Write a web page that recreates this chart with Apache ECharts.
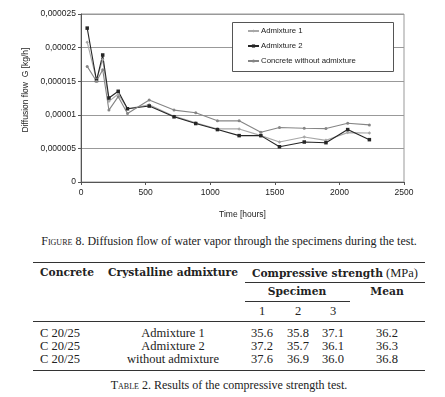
<!DOCTYPE html>
<html>
<head>
<meta charset="utf-8">
<script src="https://cdn.jsdelivr.net/npm/echarts@6/dist/echarts.min.js"></script>
<style>
body{margin:0;background:#fff;width:445px;height:397px;overflow:hidden;position:relative;font-family:"Liberation Serif",serif;color:#222}
#chart{position:absolute;left:0;top:0;width:445px;height:225px}
.t{position:absolute;white-space:nowrap;height:14px;line-height:14px;font-size:12.5px}
.c{transform:translateX(-50%)}
.b{font-family:"DejaVu Serif",serif;font-weight:bold;font-size:10.7px}
.sc{font-variant:small-caps}
.rule{position:absolute;height:0;border-top:1px solid #333}
</style>
</head>
<body>
<div id="chart"></div>
<div id="doc"></div>
<script>
// diffusion flow readings (kg/h) at each measuring time
var hours = [48, 120, 168, 216, 288, 360, 528, 720, 888, 1056, 1224, 1392, 1536, 1728, 1896, 2064, 2232];
var admixture1 = [0.0000208, 0.0000152, 0.0000182, 0.0000120, 0.0000131, 0.0000109, 0.0000115, 0.0000098, 0.0000088, 0.0000079, 0.0000079, 0.0000069, 0.00000595, 0.0000067, 0.0000062, 0.00000735, 0.0000073];
var admixture2 = [0.0000229, 0.0000151, 0.0000189, 0.0000125, 0.0000135, 0.0000109, 0.0000113, 0.0000097, 0.0000087, 0.0000078, 0.0000069, 0.0000069, 0.00000525, 0.00000595, 0.00000585, 0.0000078, 0.0000063];
var concrete = [0.0000172, 0.0000150, 0.0000167, 0.0000107, 0.0000127, 0.0000102, 0.0000122, 0.0000107, 0.0000103, 0.0000091, 0.0000091, 0.0000074, 0.0000081, 0.0000080, 0.00000795, 0.00000875, 0.0000085];
var yTickLabels = ["0", "0,000005", "0,00001", "0,000015", "0,00002", "0,000025"];

// table 2
var tableHead = ["Concrete", "Crystalline admixture", "Compressive strength", "(MPa)"];
var specimenNo = ["1", "2", "3"];
var concreteClass = ["C 20/25", "C 20/25", "C 20/25"];
var admixtureName = ["Admixture 1", "Admixture 2", "without admixture"];
var specimen1 = ["35.6", "37.2", "37.6"];
var specimen2 = ["35.8", "35.7", "36.9"];
var specimen3 = ["37.1", "36.1", "36.0"];
var meanStrength = ["36.2", "36.3", "36.8"];

function pairs(ys){
	var out = [];
	for(var i=0;i<hours.length;i++){ out.push([hours[i], ys[i]]); }
	return out;
}

var chart = echarts.init(document.getElementById('chart'));
var axisFont = {fontFamily:'Liberation Sans', fontSize:8.5, color:'#222'};
chart.setOption({
	animation:false,
	grid:{left:81, top:14, width:323, height:168, show:true, borderColor:'#999', borderWidth:1},
	legend:{
		orient:'vertical', left:232, top:22, itemGap:7, itemWidth:11, itemHeight:4,
		padding:[5,5,5,15], z:5,
		textStyle:{fontFamily:'Liberation Sans', fontSize:7.8, color:'#222', padding:[0,0,0,-3]},
		data:['Admixture 1','Admixture 2','Concrete without admixture']
	},
	graphic:[{
		// legend frame
		type:'rect', z:4, shape:{x:232.5, y:22.5, width:161, height:49},
		style:{fill:'#fff', stroke:'#555', lineWidth:1}
	},{
		type:'text', x:26, y:90, rotation:Math.PI/2,
		style:{text:'Diffusion flow  G [kg/h]', fontFamily:'Liberation Sans', fontSize:8.5, fill:'#222',
			align:'center', verticalAlign:'middle'}
	}],
	xAxis:{
		type:'value', min:0, max:2500, interval:500,
		name:'Time [hours]', nameLocation:'middle', nameGap:28,
		nameTextStyle:axisFont,
		axisLine:{lineStyle:{color:'#555'}},
		axisTick:{show:true, length:3, lineStyle:{color:'#555'}},
		axisLabel:{margin:6, fontFamily:'Liberation Sans', fontSize:8.5, color:'#222',
			formatter:function(v){ return String(v); }},
		splitLine:{show:false}
	},
	yAxis:{
		type:'value', min:0, max:0.000025, interval:0.000005,
		axisLine:{show:true, lineStyle:{color:'#555'}},
		axisTick:{show:true, length:3, lineStyle:{color:'#555'}},
		axisLabel:{margin:5, fontFamily:'Liberation Sans', fontSize:8.5, color:'#222',
			formatter:function(v){ return yTickLabels[Math.round(v/0.000005)]; }},
		splitLine:{lineStyle:{color:'#999', width:1}}
	},
	series:[
		{name:'Admixture 1', type:'line', data:pairs(admixture1), symbol:'diamond', symbolSize:3.5,
			itemStyle:{color:'#a8a8a8'}, lineStyle:{color:'#a8a8a8', width:1.1}},
		{name:'Admixture 2', type:'line', data:pairs(admixture2), symbol:'rect', symbolSize:3.5,
			itemStyle:{color:'#262626'}, lineStyle:{color:'#262626', width:1.1}},
		{name:'Concrete without admixture', type:'line', data:pairs(concrete), symbol:'circle', symbolSize:3,
			itemStyle:{color:'#858585'}, lineStyle:{color:'#858585', width:1.1}}
	]
});

// caption and table as plain text
var doc = document.getElementById('doc');
function put(txt, x, y, cls, center){
	var d = document.createElement('div');
	d.className = 't ' + (cls || '') + (center ? ' c' : '');
	d.style.left = x + 'px';
	d.style.top = (y - 7) + 'px';
	d.innerHTML = txt;
	doc.appendChild(d);
	return d;
}
function rule(x1, x2, y, w){
	var d = document.createElement('div');
	d.className = 'rule';
	d.style.left = x1 + 'px';
	d.style.width = (x2 - x1) + 'px';
	d.style.top = y + 'px';
	if(w) d.style.borderTopWidth = w + 'px';
	doc.appendChild(d);
}

put('<span class="sc">Figure</span> 8. Diffusion flow of water vapor through the specimens during the test.', 229, 241, '', true).style.fontSize = '12px';

rule(33, 425, 262, 1);
put(tableHead[0], 40, 273, 'b');
put(tableHead[1], 173, 273, 'b', true);
put('<span class="b" style="position:static">' + tableHead[2] + '</span> ' + tableHead[3], 335, 273, '', true);
rule(245, 425, 282);
put('Specimen', 297, 292, 'b', true);
put('Mean', 387, 292, 'b', true);
rule(245, 350, 301);
var specX = [262, 298, 333];
for(var k=0;k<3;k++){ put(specimenNo[k], specX[k], 311, '', true); }
rule(33, 425, 321, 1.5);
var rowY = [333, 346, 359];
for(var r=0;r<3;r++){
	put(concreteClass[r], 40, rowY[r]);
	put(admixtureName[r], 173, rowY[r], '', true);
	put(specimen1[r], specX[0], rowY[r], '', true);
	put(specimen2[r], specX[1], rowY[r], '', true);
	put(specimen3[r], specX[2], rowY[r], '', true);
	put(meanStrength[r], 387, rowY[r], '', true);
}
rule(33, 425, 370, 1.5);
put('<span class="sc">Table</span> 2. Results of the compressive strength test.', 229, 385, '', true).style.fontSize = '12px';
</script>
</body>
</html>
